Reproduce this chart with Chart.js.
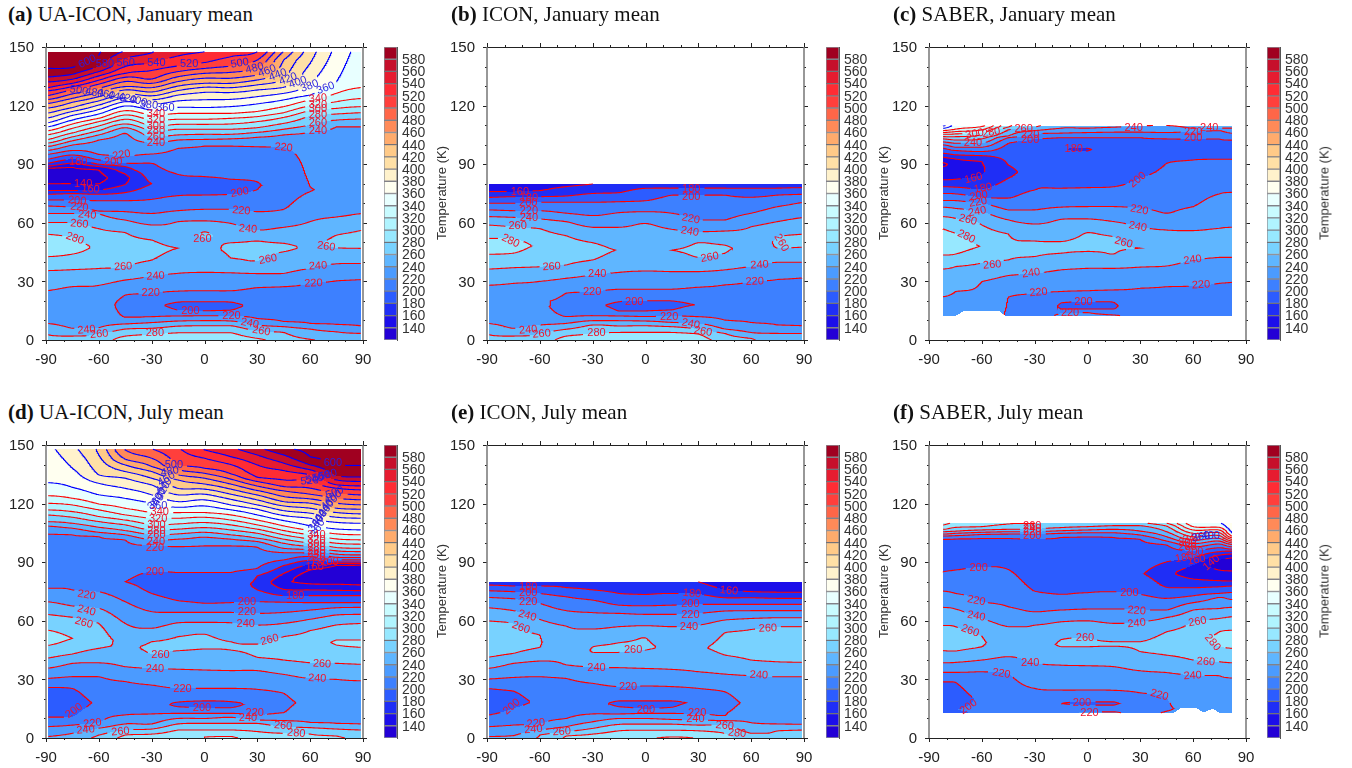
<!DOCTYPE html>
<html><head><meta charset="utf-8"><title>Temperature cross-sections</title>
<style>
html,body{margin:0;padding:0;background:#fff;width:1352px;height:768px;overflow:hidden}
canvas{position:absolute}
.t{position:absolute;font:21px "Liberation Serif",serif;color:#111;white-space:nowrap}
.k{position:absolute;font:13px "Liberation Sans",sans-serif;color:#333;white-space:nowrap;transform:translate(-50%,-50%) rotate(-90deg)}
</style>
<script src="https://cdn.jsdelivr.net/npm/chart.js@4"></script>
</head><body>
<script>
const latColumns=[-90,-75,-60,-45,-30,-15,0,15,30,45,60,75,90];
const saberColumns=[-82,-75,-60,-45,-30,-15,0,15,30,45,60,75,82];
const tickLabelsX=[-90,-60,-30,0,30,60,90];
const tickLabelsY=[0,30,60,90,120,150];
const bandColors=['#2300d6','#1c0eea','#1f2ef6','#2c5cff','#3d80ff','#4b9bff','#5fb6ff','#78d2ff','#97e8ff','#b0f4ff','#c8fbff','#e8ffff','#fffff0','#fff2cc','#ffe0a6','#ffca88','#ffab6c','#ff8a58','#ff6648','#ff3f3c','#ff2c34','#e61c30','#c60f2b','#a00020'];

// Each column: altitude, temperature pairs at that latitude.
const uaIconJan=[
[0,262,3,260,8.5,240,12,235,20,232,25.2,240,35.5,260,42.6,280,48,295,54.2,280,60.2,260,64.8,240,68.6,220,71.7,200,74.6,180,76.5,160,80,140,84,130,88,140,89,160,90.5,180,92.5,200,95,220,97,240,99,260,100.7,280,102.4,300,105,320,107,340,109,360,111,380,113.5,400,116,420,118.6,440,121,460,123,480,125,500,127.5,520,129,540,132,560,134.5,580,139,600,148,625],
[0,262,2,260,6,240,12,228,20,226,27.3,240,36,260,44,280,47,290,52.5,280,60,260,64.8,240,68,220,71.7,200,75,180,76.5,160,80,140,84,132,88.4,140,90.5,160,92.5,180,94.7,200,97,220,99.8,240,102,260,104,280,106,300,108.4,320,110.6,340,112.6,360,115,380,117,400,119,420,121.7,440,123.7,460,126,480,128,500,129.7,520,131.4,540,133.5,560,136,580,139.5,600,148,620],
[0,268,3.4,260,6.3,240,12,228,20,228,28,240,36.6,260,48,276,57,260,64.5,240,66,220,71.3,200,74.6,180,76.8,160,79.9,140,83,135,87,140,88.8,160,90,180,92.2,200,95,220,102.4,240,105,260,107.2,280,109.6,300,111.8,320,113.5,340,115.7,360,118,380,120.3,400,122.4,420,124.6,440,126.6,460,128.9,480,131,500,133,520,135.2,540,137.4,560,140,580,146,600,148,602],
[0,290,2,280,5.6,260,8.2,240,11.6,220,18,214,23,220,30.7,240,37.2,260,46,270,55,260,61.4,240,65.7,220,71.3,200,75.5,180,79.6,160,83,155,85,160,88.8,180,90.5,200,94,220,105.8,240,108.7,260,110.6,280,113,300,115.2,320,117.4,340,119.8,360,122,380,124,400,126,420,128,440,129.7,460,132.3,480,134.5,500,136.5,520,140,540,144.2,560,148,580],
[0,292,3,280,6,260,8.9,240,11.9,220,18,205,23.9,220,32.7,240,40.9,260,46,266,51.2,260,58.9,240,64.8,220,72,200,80,180,90.5,200,95.2,220,101,240,104,260,107.2,280,109.6,300,112.6,320,115.2,340,117.8,360,120.7,380,123,400,125,420,127,440,129.2,460,131.4,480,133.6,500,138,520,141.7,540,147,560,148,562],
[0,295,3.7,280,7.1,260,9.7,240,12.3,220,15.3,200,17.5,195,19.4,200,25,220,34.1,240,47,260,60.6,240,66.2,220,73.9,200,79,190,84.8,200,98.1,220,102.4,240,105,260,107.9,280,110.4,300,113,320,116,340,119.1,360,122.4,380,125.4,400,127.7,420,130,440,132.3,460,134.8,480,137.4,500,140.3,520,145.4,540,148,548],
[0,296,3.7,280,7.3,260,9.9,240,12.4,220,15,200,17.4,195,19.6,200,25.2,220,34.6,240,47,258,52,260,53.5,262,55.4,260,61,240,66.9,220,74.2,200,79,190,83.6,200,99.3,220,102.7,240,105.3,260,107.9,280,110.4,300,113,320,116,340,119,360,123,380,126.8,400,129.4,420,131.4,440,134,460,136.5,480,139,500,142,520,147.6,540,148,541],
[0,292,3.7,280,7.3,260,9.7,240,12.3,220,15.3,200,17.4,195,19.4,200,25.2,220,34.4,240,42,260,46,262,49.8,260,59.7,240,66.9,220,74.6,200,78,190,82.3,200,99.3,220,103,240,105.3,260,107.9,280,110.6,300,113.5,320,116,340,119.5,360,123.2,380,126.7,400,129.2,420,131.4,440,134,460,137,480,140.3,500,145,520,148,528],
[0,285,.8,280,4.7,260,7.7,240,11,220,18,205,26.8,220,34,240,40.4,260,46,264,50.7,260,56.3,240,65.7,220,77,200,79,199,81,200,99,220,103.8,240,106.3,260,108.7,280,111.8,300,114.4,320,117,340,120.9,360,124.6,380,128,400,130.6,420,133.1,440,135.7,460,139.1,480,143.4,500,147.6,520,148,521],
[0,268,3.9,260,6.8,240,9.5,220,18,205,27.3,220,34.1,240,45.2,260,47,264,49.5,260,57.7,240,66.9,220,80,205,98.6,220,105,240,107.9,260,110.9,280,114,300,116.4,320,119.5,340,122.9,360,126.3,380,129.4,400,133.1,420,143.4,440,148,460],
[0,262,.3,260,5.6,240,8.5,220,18,208,29,220,36.6,240,48,258,60.6,240,76,220,77,219,78.5,220,85,222,100,225,106.3,240,110.1,260,114.7,280,117.4,300,119.8,320,122.9,340,125.4,360,130.6,380,141.7,400,148,410],
[0,250,4.2,240,8,220,15,210,20,210,30.3,220,39,240,47.2,260,50,265,53.7,260,63,240,70,222,85,225,100,230,109.2,240,112.6,260,115.7,280,118.6,300,122,320,126.3,340,132.3,360,148,375],
[0,248,3.4,240,7.1,220,15,210,20,210,31,220,39.2,240,46.9,260,50,267,56.3,260,64.8,240,80,228,95,232,109.2,240,113.2,260,116.4,280,119.5,300,123.7,320,129.4,340,135,345,148,352]];
const iconJan=[
[0,262,3,260,8.5,240,12,232,20,230,28,240,36.3,260,43.9,280,48,295,52,280,58.9,260,63.2,240,66.6,220,70,200,73,180,76,160,80,142],
[0,262,2,260,6,240,12,228,20,226,29,240,37,260,44.5,280,48.5,290,52,280,58,260,62.8,240,66.2,220,70,200,73.4,180,76,160,80,147],
[0,268,3.4,260,7.7,240,12,225,20,222,30,240,37.5,260,48,276,57,260,62,240,66.2,220,70.5,200,73.4,180,76.5,160,80,150],
[0,288,2,280,5.5,260,8.5,240,12,220,17,214,24,220,31.6,240,38.4,260,47,270,53.4,260,60.6,240,64.9,220,70.5,200,73.7,180,78.5,160,80,155],
[0,290,3.4,280,7.7,260,9.9,240,12.4,220,18,205,24.7,220,33.3,240,41,260,46,268,49.8,260,57.7,240,63.7,220,70.5,200,75,180,79.9,160,80,160],
[0,296,3.9,280,7.2,260,9.9,240,12.3,220,14.8,200,17.5,195,19.6,200,26,220,34.6,240,46,259,57.7,240,65.2,220,70.8,200,75.4,180,80,170],
[0,298,3.9,280,7.3,260,9.7,240,12,220,14.8,200,18,195,20.1,200,26,220,35.3,240,47,258,59.7,240,65.7,220,71.3,200,77.7,180,80,175],
[0,298,3.9,280,6.8,260,9,240,12.3,220,15.4,200,18,195,20,200,26,220,35,240,46,260,56.7,240,64.9,220,74.2,200,77.7,180,80,175],
[0,288,3.1,280,5.6,260,8.5,240,11.9,220,18,201,27,220,35,240,42.3,260,46,264,49.8,260,55.5,240,61.4,220,74.2,200,77.7,180,80,175],
[0,272,3.4,260,5.6,240,10.2,220,18,208,28.2,220,35.9,240,44.4,260,47,262,48.6,260,55.8,240,61.4,220,74.2,200,77.7,180,80,175],
[0,262,.8,260,3.8,240,8.9,220,20,210,29.9,220,37.6,240,47,255,58,240,64.9,220,73.1,200,77.7,180,80,175],
[0,250,3.4,240,7.7,220,18,210,31,220,39.8,240,47,260,50,262,52.9,260,60.6,240,68.3,220,74.2,200,77.7,180,80,175],
[0,248,3.4,240,7.2,220,18,210,31.9,220,39.8,240,47.5,260,50,265,54.3,260,62.7,240,70.5,220,74.6,200,78,180,80,175]];
const saberJan=[
[12.5,232,22.2,240,36.4,260,43.5,280,48,292,56.9,280,63.2,260,68,240,71.4,220,75,200,78.5,180,82,160,86,145,88.8,140,90,135,90.8,140,93.6,160,95.6,180,98.2,200,99.9,220,101.4,240,103,260,104.1,280,105.3,300,106.2,320,107.2,340,108.4,360,109.8,385],
[12.5,232,24.8,240,37.6,260,44,280,48,288,54.6,280,62.3,260,67.4,240,71.4,220,74.8,200,78.2,180,82.3,160,86,150,88,145,92.7,160,94.8,180,97,200,98.7,220,100.7,240,102.4,260,104.1,280,105.5,300,106.7,320,107.9,340,109.8,350],
[12.5,232,29.9,240,39.3,260,48,279,58.9,260,60.6,258,65.7,240,70,220,73,200,77.2,180,84.5,160,88,158,91.3,160,94.4,180,96.5,200,98.7,220,100.7,240,103,260,105,280,106.2,300,107.6,320,109.3,340,109.8,345],
[12.5,218,21.9,220,33,240,41,260,46,264,54.3,260,61.5,240,66.6,220,72.6,200,82.8,180,86,172,89.6,180,95,185,100.7,200,103.6,220,104.5,240,107.6,260,109,280,109.8,285],
[12.5,214,17,208,23.9,220,34.1,240,42.7,260,47,264,50.7,260,59.4,240,66.6,220,76.8,200,90,190,97,183,102.8,200,105.5,220,107.2,240,109,260,109.8,265],
[12.5,222,13.7,220,15.8,200,17.5,199,19,200,24.8,220,35.9,240,44.4,260,47,263,50.4,260,61.8,240,68,220,77.7,200,85,188,97,181,98.2,181,103.6,200,105.9,220,108.4,240,109.8,245],
[12.5,224,14,220,15.8,200,17.6,197,19.6,200,25.2,220,36.7,240,45.3,260,50,264,55,260,62,240,68.3,220,78,200,85,186,96.8,180,97.5,179,98.2,180,103.6,200,106.2,220,108.4,240,109.8,245],
[12.5,222,12.8,220,15.8,200,17.5,198,19.3,200,25.6,220,36.7,240,44,260,50,262,52.9,260,60.6,240,68.3,220,78.5,200,85,187,100,190,103.6,200,106.4,220,108.9,240,109.8,245],
[12.5,212,26.5,220,37.3,240,47,260,58,240,67.4,220,82.8,200,90,188,103.6,200,106.4,220,109.6,240,109.8,241],
[12.5,212,27.3,220,37.9,240,47,256,56.3,240,64.9,220,90.5,200,98,190,103,200,106.2,220,109.8,240],
[12.5,212,27.7,220,41,240,50,258,56,240,68.3,220,92.2,200,97,195,102.8,200,106.7,220,108.4,240,109.8,245],
[12.5,208,29,220,42.3,240,50,250,57.2,240,74.8,220,92.5,200,97,198,103,200,107.2,220,108.4,240,109.8,245],
[12.5,208,29.5,220,42.3,240,50,252,57.7,240,75.6,220,92.5,200,97,195,102.4,200,105.9,220,108.4,240,109.8,245]];
const uaIconJul=[
[0,242,.7,240,5.8,220,10.6,200,18,190,25.9,200,30.5,220,35.7,240,40.8,260,47.3,280,51,292,55.3,280,63.3,260,69.8,240,76.6,220,90,208,104.5,220,108.6,240,110.8,260,114.2,280,116.8,300,120.2,320,124.1,340,130.8,360,148,375],
[0,250,2.4,240,6.6,220,10.9,200,18,190,25.4,200,31.4,220,38.2,240,43,260,51,280,61.8,260,67.6,240,75.8,220,90,205,104,220,107.4,240,109.9,260,113,280,115.9,300,119.3,320,122.7,340,128.3,360,138.1,380,148,395],
[0,265,1.5,260,5,240,7.8,220,18,203,31.4,220,38.5,240,45.9,260,50,270,58.7,260,66.4,240,74.9,220,78,203,88,205,103.1,220,105.3,240,107.9,260,110.8,280,113.4,300,116.8,320,119.8,340,124.5,360,130.4,380,134.7,400,144.9,420,148,425],
[0,285,1.5,280,4.1,260,7.2,240,11.8,220,18,205,28.9,220,36.5,240,47,258,58.7,240,69.8,220,80,200,85,205,101.4,220,104,240,106.2,260,109.1,280,111.6,300,114.2,320,117.6,340,122.7,360,127.8,380,133,400,136.4,420,139.8,440,142.7,460,147.5,480,148,481],
[0,290,2,280,4.6,260,7.2,240,12.3,220,18,205,27.1,220,35.6,240,43,260,46,263,49.3,260,56.2,240,64.7,220,74,200,80,190,85.2,200,98.5,220,101.4,240,104,260,106.5,280,109.1,300,112.5,320,115.4,340,120.2,360,124.5,380,129.6,400,133,420,136.4,440,139,460,143.2,480,148,500],
[0,296,4.1,280,7.2,260,10,240,12.6,220,16,200,17,197,18.4,200,25.4,220,35.2,240,44.7,260,47,266,51.9,260,59,240,64.3,220,70.3,200,78,185,84.7,200,98,220,101.8,240,104.5,260,106.9,280,109.6,300,112.5,320,115.4,340,118.1,360,121,380,124.5,400,127.8,420,132.1,440,134.7,460,137.3,480,139.8,500,148,518],
[0,300,.7,300,1,290,4.1,280,7.5,260,10,240,12.6,220,15.5,200,17,195,19,200,25.4,220,34.8,240,45.6,260,48,266,53.2,260,59.2,240,64.3,220,69,200,78,182,84.7,200,98.4,220,102.8,240,105.3,260,107.7,280,110.3,300,113,320,115.4,340,118.8,360,121.9,380,124.8,400,127.4,420,130,440,133,460,135.5,480,138.1,500,143.2,520,147.5,540,148,541],
[0,302,.8,300,4.1,280,7.5,260,10.6,240,12.6,220,15.5,200,17,195,18.6,200,25.4,220,34.5,240,45,260,47,262,49.3,260,59,240,64.3,220,69.3,200,77,185,84.7,200,98.4,220,101.8,240,104,260,106.5,280,109.1,300,111.6,320,114.2,340,116.8,360,119.3,380,122.2,400,124.8,420,127.4,440,130,460,132.5,480,135.2,500,140,520,144,540,148,556],
[0,292,3.3,280,7.5,260,9.2,240,11.8,220,18,205,24.9,220,34.5,240,41.3,260,45,264,48.1,260,57.8,240,63.8,220,69.8,200,75.8,180,79,175,83,180,86.9,200,97.7,220,100.6,240,102.3,260,104.8,280,106.9,300,109.1,320,111.6,340,114.2,360,117.1,380,119.3,400,121.9,420,124.4,440,126.7,460,129,480,131.3,500,133.5,520,139.8,540,144.9,560,148,575],
[0,288,2.4,280,5.8,260,8.9,240,13,220,18,215,22.9,220,32.6,240,39.9,260,46,270,51.9,260,58.7,240,64.3,220,69.5,200,72.9,180,76.1,160,80,145,84.3,160,88.3,180,91.2,200,94.9,220,97.1,240,99.7,260,101.8,280,104,300,106.2,320,108.6,340,111.3,360,113.9,380,116.4,400,118.8,420,121,440,123.6,460,126.5,480,128.7,500,132.1,520,136.9,540,140.7,560,144.9,580,148,596],
[0,283,2,280,5.3,260,8,240,18,225,30.5,240,38.5,260,46,275,55,260,60.8,240,65.5,220,69.3,200,72.9,180,75.8,160,78.9,140,82,125,86,140,89,160,90.9,180,92.9,200,94.6,220,96.3,240,98,260,99.7,280,101.8,300,104,320,106.2,340,108.6,360,112.5,380,115.1,400,117.6,420,120.2,440,122.4,460,124.8,480,127.9,500,131.6,520,134.7,540,137.3,560,139.8,580,144,600,148,605],
[0,282,1,280,4.6,260,7.5,240,18,228,30,240,38.2,260,47.6,280,49,282,50.2,280,57.9,260,63,240,66.7,220,69.3,200,72.9,180,75.6,160,78.7,140,82,125,88.3,140,89.3,160,90.1,180,91.2,200,92.5,220,94.1,240,95.8,260,97.5,280,99.7,300,101.9,320,104.5,340,107,360,110.4,380,113,400,115.4,420,117.6,440,120.2,460,122.7,480,125.3,500,127.9,520,129.6,540,132.1,560,134.2,580,139.5,600,148,610],
[0,275,4.1,260,7,240,18,230,29.3,240,37.7,260,46.4,280,48,285,50.2,280,58.7,260,63.3,240,66.9,220,69.3,200,72.9,180,75.4,160,78.3,140,82,125,88.6,140,89.3,160,90.1,180,91.2,200,92.4,220,93.7,240,95.4,260,97.1,280,99.2,300,101.4,320,104,340,106.5,360,109.9,380,112.5,400,114.7,420,117.1,440,119.3,460,121.9,480,124.4,500,127,520,129,540,131.3,560,133.5,580,139.5,600,148,610]];
const iconJul=[
[0,242,.7,240,5.8,220,11.7,200,18,190,25.4,200,30.2,220,35.6,240,41.3,260,48,278,60,260,66.7,240,72,220,75.4,200,78.3,180,80,170],
[0,250,1.2,240,6.6,220,11.7,205,15.2,200,19,193,24,200,31,220,38.2,240,43.3,260,48,270,58.7,260,65.2,240,71.3,220,74.9,200,77.8,180,80,172],
[0,262,1.5,260,4.1,240,7.1,220,18,203,31.4,220,39.4,240,46.4,260,49,261,52.7,260,60.7,240,68.9,220,74,200,77.8,180,80,172],
[0,282,1,280,3.2,260,5.8,240,10,220,18,205,30.5,220,37.4,240,48,250,57.3,240,65.2,220,72.3,200,77,180,80,175],
[0,290,2,280,4.9,260,8.3,240,12.3,220,18,205,28,220,36.2,240,43.7,260,45,261,46.7,260,55.8,240,64.2,220,70.6,200,75.8,180,80,170],
[0,296,3.7,280,7,260,10,240,12.3,220,16,200,17.5,196,19,200,26.3,220,36,240,43.8,260,47,262,48.8,260,57,240,63.8,220,68,200,74,180,80,170],
[0,296,4,280,7.1,260,10,240,12.6,220,15,200,17.5,194,19,200,26.6,220,35.6,240,45,260,47,262,51.3,260,57.5,240,63.3,220,67.7,200,73.5,180,80,172],
[0,305,.5,300,4,280,7.1,260,9.5,240,12.6,220,15.7,200,18,195,19,200,26.3,220,35.1,240,46,258,57,240,63.3,220,68,200,74,180,80,172],
[0,298,3.7,280,6.6,260,9.2,240,12.3,220,18,205,25.4,220,33.9,240,46,258,57.8,240,63.8,220,68.4,200,73.7,180,78,165,80,160],
[0,285,2.4,280,6.6,260,8.9,240,11.4,220,12.9,219,18,212,23.7,220,32.7,240,42.5,260,47,266,53.9,260,60.4,240,65,220,68.4,200,71.8,180,75.8,160,80,150],
[0,272,2.4,260,7.8,240,18,225,31.9,240,39.9,260,48,270,55.6,260,61.2,240,65.2,220,68.4,200,71.8,180,74.9,160,80,145],
[0,265,3.7,260,7.1,240,18,228,31.4,240,39,260,48,275,57,260,61.6,240,65.2,220,68.4,200,71.5,180,74.6,160,80,143],
[0,275,4.1,260,7,240,18,230,31.4,240,38.7,260,48,275,57,260,61.6,240,65.2,220,68.4,200,71.5,180,74.6,160,80,142]];
const saberJul=[
[12.9,195,13.4,200,20,190,28.8,200,33.6,220,38.5,240,44.7,260,50,272,57.6,260,66.9,240,75.2,220,85.1,200,95,190,101.7,200,103.4,220,104.4,240,105.6,260,106.8,280,109,300,109.9,305],
[12.9,195,14.3,200,20,192,28.5,200,33.6,220,38.7,240,44.5,260,50,270,57,260,66,240,74,220,86,200,95,190,101.9,200,103.6,220,104.8,240,105.9,260,107.8,280,109.9,295],
[12.9,205,20,203,33.9,220,39.9,240,46.7,260,49,262,52.2,260,61.2,240,69.8,220,87.7,200,95,190,102.2,200,104.2,220,105.3,240,106.5,260,108.2,280,109.9,290],
[12.9,205,33,220,41.6,240,48,250,57,240,67.2,220,86.3,200,95,190,102.2,200,104.4,220,105.6,240,106.8,260,109.5,280,109.9,281],
[12.9,208,25.4,220,38.5,240,46,252,57.8,240,64.6,220,75.2,200,90,185,101.9,200,104.4,220,105.6,240,107,260,109.9,280],
[12.9,216,17.7,200,24.5,220,37.3,240,46.7,260,48,262,50.4,260,59.5,240,65.5,220,73.5,200,90,185,102.7,200,104.8,220,106.1,240,107.7,260,109.9,275],
[12.9,222,13.4,220,16.8,200,17.7,198,18.5,200,24.5,220,37,240,46.7,260,48,262,51.5,260,60,240,66,220,74.4,200,90,185,103,200,105.1,220,106.5,240,108.2,260,109.9,275],
[12.9,222,13.4,220,16.8,200,17.7,199,18.5,200,24.4,220,36.5,240,47,260,48,262,49.3,260,58.7,240,66,220,74.9,200,90,185,102.7,200,105.1,220,106.8,240,108.7,260,109.9,270],
[12.9,214,18,206,23.1,220,34.4,240,44.2,260,47,262,49.3,260,59.5,240,66,220,73.5,200,80,190,84,182,95,190,101.7,200,103.9,220,105.9,240,108.7,260,109.9,275],
[12.9,222,15,217,20.6,220,33.5,240,42.4,260,48,270,54.4,260,61.7,240,65.5,220,71.5,200,77.1,180,84,165,90.2,180,98.8,200,100.8,220,103,240,105.6,260,108.5,280,109.9,300],
[12.9,228,32.2,240,39.9,260,50,275,59.5,260,65.5,240,69.3,220,72.8,200,76.9,180,81.4,160,85,148,88.5,160,92.3,180,95.9,200,97.9,220,99.6,240,101.3,260,103,280,104.8,300,106.5,320,108.2,340,109.9,352],
[12.9,230,31.9,240,39,260,47,280,50,285,54.4,280,61.2,260,66.3,240,72,220,74,200,77.4,180,80.5,160,86,140,89,130,91.1,140,93.6,160,95.4,180,97.4,200,99.3,220,100.8,240,102.2,260,103.6,280,105.1,300,106.5,320,107.8,340,109.9,358],
[12.9,235,30.8,240,38.5,260,45.9,280,50,292,55.2,280,62.1,260,66.9,240,70.9,220,74.5,200,77.8,180,80.4,160,85.5,140,89,130,92.3,140,94.2,160,95.7,180,96.7,200,97.9,220,99.1,240,100,260,100.8,280,101.7,300,102.5,320,103.4,340,105,360,109.9,380]];

// Contour labels: latitude, altitude, text, angle.
const labelsUaJan=[[-66.6,142.5,600,-25],[-56.6,141.2,580,0],[-44.8,141.7,560,0],[-27.3,141.7,540,0],[-8.7,141.2,520,0],[20,141.7,500,-10],[28.5,139.1,480,-15],[35.5,137.7,460,-20],[41.7,135.7,440,-20],[47.4,133.6,420,-20],[53,131.9,400,-20],[59.7,130,380,-20],[68.7,128.9,360,-20],[-71.3,127.7,500,10],[-62.6,126.6,480,10],[-56,125.8,460,15],[-49.9,124.6,440,15],[-43.9,123.7,420,15],[-37.7,122.4,400,15],[-31.6,120.3,380,5],[-22.2,118.6,360,0],[-27.6,115.5,340,0],[-27.6,112.6,320,0],[-27.6,109.7,300,0],[-27.6,107.2,280,0],[-27.6,104.1,260,0],[-27.6,100.7,240,0],[64.4,123.7,340,-5],[64.4,120.3,320,0],[64.4,118.1,300,0],[64.4,115.2,280,0],[64.4,111.3,260,0],[64.4,107,240,0],[44.9,98.5,220,5],[-47.1,94.7,220,-10],[-71.7,91.3,180,0],[-51.8,91,200,0],[-68.9,79.7,140,0],[-64.7,77.3,160,5],[20,75.6,200,-10],[-72.3,71.3,200,5],[-71.1,67.9,220,5],[-66.6,64,240,5],[-71.1,59.4,260,5],[-73.6,52,280,20],[20.9,66.2,220,5],[24.7,56.8,240,5],[-1.2,51.7,260,0],[-46.2,37.5,260,-3],[36,41.3,260,-10],[69.1,47.8,260,8],[-27.8,32.7,240,-3],[64.4,37.9,240,-3],[-30.5,23.9,220,0],[61.9,29,220,-3],[-8,14.8,200,0],[15.3,12.3,220,0],[25.7,8.5,240,10],[32.3,4.6,260,10],[-67,5.1,240,-5],[-59.8,3,260,-5],[-28.2,3.4,280,0]];
const labelsIconJan=[[-71.3,76,160,0],[-66.2,72.9,180,0],[-66.6,70,200,0],[-66.2,66.2,220,0],[-66.2,62.3,240,0],[-72.6,58.4,260,0],[-76.6,50.7,280,25],[26,77.3,180,0],[26,73.1,200,0],[25.7,62,220,10],[25.1,55.5,240,10],[-53.3,37.5,260,-3],[36.5,42.3,260,-10],[77.1,49.8,260,60],[-27.4,33.6,240,0],[64.8,38.4,240,-3],[-30.3,24.7,220,0],[62,29.9,220,-3],[-6.4,19.3,200,0],[13.4,12,220,0],[25.7,8.2,240,10],[32.7,4.3,260,10],[-66.6,5.1,240,-5],[-59,3.1,260,-5],[-27.8,3.4,280,0]];
const labelsSaberJan=[[-64.1,105.5,300,-10],[-54.7,106.2,280,-10],[-36.3,108.1,260,0],[-32.6,105,220,0],[-32.6,102.4,200,0],[26.2,108.4,240,0],[69.1,108.4,240,0],[60,106.7,220,0],[60,103.3,200,0],[-65,100.7,240,0],[-7.8,97.7,180,0],[-64.7,82.8,160,-15],[-59.4,77.7,180,-10],[-61.8,73.8,200,-10],[-62.2,70.5,220,-10],[-62.6,65.7,240,-10],[-67.9,61.5,260,15],[-68.8,52.9,280,25],[28.5,82,200,-40],[29.4,66.6,220,10],[28.5,58,240,10],[20.5,49.9,260,15],[-54.1,38.4,260,-5],[-32,34.2,240,-8],[59.7,41,240,-8],[-27.8,24.3,220,-5],[64.4,28.2,220,-3],[-2.3,19.3,200,0],[-9.9,13.7,220,0]];
const labelsUaJul=[[-17.4,139.8,500,0],[-19.7,136.4,480,-10],[-21.6,132.6,460,-30],[-23.1,129,440,-45],[-23.5,126.7,420,-60],[-25.8,123.6,400,-60],[-27.6,121,380,-45],[-26.3,118.8,360,0],[-25.4,115.6,340,0],[-26.3,112.2,320,0],[-27.3,109.1,300,0],[-27.3,106,280,0],[-27.3,104,260,0],[-27.6,100.6,240,0],[-28.2,97.1,220,0],[72.9,140.7,600,0],[70.1,134.7,580,-15],[66.3,133.8,560,-15],[62.5,132.6,540,-10],[59.7,131.6,520,-5],[73.8,125.6,500,-20],[72.9,123.3,480,-30],[71,120.5,460,-40],[69.1,117.6,440,-50],[67.2,115.1,420,-50],[65.3,112.5,400,-50],[63.5,109.9,380,-50],[64.4,107.4,360,-60],[63.5,104,340,0],[63.5,101.4,320,0],[63.5,99.4,300,0],[63.5,97.5,280,0],[63.5,95.8,260,0],[63.5,94.1,240,0],[63.5,92.4,220,0],[71,90.3,200,0],[65.3,89.5,180,0],[62.5,87.8,160,0],[-28.2,85.2,200,0],[51.5,72.9,180,0],[24.1,69.8,200,0],[24.1,64.3,220,0],[23.4,58.4,240,0],[-67,73.2,220,10],[-67,65.2,240,15],[-68.5,59,260,15],[37,50.2,260,-15],[-25,42.5,260,0],[66.7,37.9,260,3],[-28.2,35.3,240,0],[64,30.5,240,3],[-12.5,25.1,220,0],[-74.1,14,200,-35],[-1.4,15.2,200,0],[28.5,12.6,220,0],[24.7,10.4,240,0],[44.6,6.3,260,5],[52.1,2.4,280,5],[-63.6,7.5,220,-5],[-67.5,4.1,240,-5],[-47.7,3.2,260,-5]];
const labelsIconJul=[[-66.6,77.5,180,0],[-66.6,74,200,0],[-66.6,69.4,220,0],[-67.1,62.6,240,15],[-70.7,56.5,260,20],[47.4,75.4,160,5],[26.4,74,180,5],[25.5,68.6,200,0],[25.5,63,220,0],[24.7,56.6,240,0],[69.5,56.1,260,-2],[-7,45,260,0],[-27.8,36,240,0],[64.4,32.2,240,3],[-9.9,26.3,220,0],[-76,16,200,-40],[.2,14.6,200,0],[29.3,12.6,220,0],[28.3,9.7,240,0],[45,6.3,260,5],[52,2.4,280,5],[-62.2,7.5,220,-5],[-63.7,4.4,240,-5],[-47.6,3.2,260,-3]];
const labelsSaberJul=[[-31.4,108.7,260,0],[-31.4,107,240,0],[-31.4,105.3,220,0],[-31.4,103.4,200,0],[59.3,102.2,340,-10],[64.4,103,360,-10],[70,103.4,400,0],[56.8,99.6,300,0],[56.8,97.9,280,0],[60.6,95.4,200,0],[54.9,92.3,180,-10],[61.9,91.1,160,-10],[70.4,89.7,140,-40],[-61.8,87.3,200,0],[23.8,74.5,200,0],[-63.2,70.3,220,10],[27.9,65.1,220,5],[-63.2,62.4,240,10],[27.9,58.7,240,-5],[62.5,59.5,260,-10],[-66.6,54.9,260,20],[-1.4,51,260,0],[71,48.9,280,50],[-32.6,38.5,240,0],[67.2,39,260,3],[59.7,31.9,240,-3],[-49,33,220,10],[40.8,22,220,15],[-67.5,16,200,-35],[-3.1,17.7,200,0],[1.1,12.6,220,0]];
// Lower edge of the SABER coverage
const edgeJanLat=[-82,-74.5,-70,-50,-47,82], edgeJanAlt=[12.5,12.5,15,15,12.5,12.5];
const edgeJulLat=[-82,49,53,62,66,71,75,82], edgeJulAlt=[12.9,12.9,15.3,15.3,13,15,12.9,12.9];

const panels=[
 {id:'(a)',title:' UA-ICON, January mean',left:46,bar:384,top:47,cols:uaIconJan,lats:latColumns,ext:[-88.7,88.7,0,147.6],labels:labelsUaJan,tx:8,ty:2},
 {id:'(b)',title:' ICON, January mean',left:487,bar:826,top:47,cols:iconJan,lats:latColumns,ext:[-88.7,88.7,0,80],labels:labelsIconJan,tx:451,ty:2},
 {id:'(c)',title:' SABER, January mean',left:929,bar:1267,top:47,cols:saberJan,lats:saberColumns,ext:[-82,82,12.5,109.8],labels:labelsSaberJan,tx:893,ty:2,eLat:edgeJanLat,eAlt:edgeJanAlt},
 {id:'(d)',title:' UA-ICON, July mean',left:46,bar:384,top:445,cols:uaIconJul,lats:latColumns,ext:[-88.7,88.7,0,147.8],labels:labelsUaJul,tx:8,ty:400},
 {id:'(e)',title:' ICON, July mean',left:487,bar:826,top:445,cols:iconJul,lats:latColumns,ext:[-88.7,88.7,0,80],labels:labelsIconJul,tx:451,ty:400},
 {id:'(f)',title:' SABER, July mean',left:929,bar:1267,top:445,cols:saberJul,lats:saberColumns,ext:[-82,82,12.9,109.9],labels:labelsSaberJul,tx:893,ty:400,eLat:edgeJulLat,eAlt:edgeJulAlt}];

const PW=317,PH=293;
function pieceLinear(xs,ys,x){ if(x<=xs[0])return ys[0]; for(let i=1;i<xs.length;i++) if(x<=xs[i]) return ys[i-1]+(ys[i]-ys[i-1])*(x-xs[i-1])/(xs[i]-xs[i-1]); return ys[ys.length-1];}
function profileAt(p,a){ let n=p.length; if(a<=p[0])return p[1]; for(let i=2;i<n;i+=2) if(a<=p[i]) return p[i-1]+(p[i+1]-p[i-1])*(a-p[i-2])/(p[i]-p[i-2]); return p[n-1];}
function buildField(P){
 const [x0,x1,y0,y1]=P.ext, nx=180, ny=Math.round((y1-y0)/0.25), w=nx+1,h=ny+1;
 const f=new Float32Array(w*h), c=P.cols, L=P.lats, m=L.length;
 const stack=c.map(()=>new Float32Array(h));
 for(let k=0;k<m;k++) for(let j=0;j<h;j++) stack[k][j]=profileAt(c[k],y0+(y1-y0)*j/ny);
 for(let i=0;i<w;i++){ const lat=x0+(x1-x0)*i/nx; let s=0; while(s<m-2&&lat>L[s+1])s++;
  const u=Math.min(1,Math.max(0,(lat-L[s])/(L[s+1]-L[s])));
  const a=stack[Math.max(0,s-1)],b=stack[s],d=stack[s+1],e=stack[Math.min(m-1,s+2)];
  for(let j=0;j<h;j++){ const p0=a[j],p1=b[j],p2=d[j],p3=e[j];
   let v=.5*(2*p1+(p2-p0)*u+(2*p0-5*p1+4*p2-p3)*u*u+(3*p1-p0-3*p2+p3)*u*u*u);
   v=Math.min(Math.max(p0,p1,p2,p3),Math.max(Math.min(p0,p1,p2,p3),v));
   f[i+j*w]=v;}}
 return {f,w,h,nx,ny,x0,x1,y0,y1};
}
function sample(G,lat,alt){ if(lat<G.x0||lat>G.x1||alt<G.y0||alt>G.y1) return NaN;
 const fx=(lat-G.x0)/(G.x1-G.x0)*G.nx, fy=(alt-G.y0)/(G.y1-G.y0)*G.ny; const i=Math.min(G.nx-1,Math.floor(fx)),j=Math.min(G.ny-1,Math.floor(fy)),u=fx-i,v=fy-j,w=G.w,f=G.f;
 return f[i+j*w]*(1-u)*(1-v)+f[i+1+j*w]*u*(1-v)+f[i+(j+1)*w]*(1-u)*v+f[i+1+(j+1)*w]*u*v;}
const SEG={1:[[3,0]],2:[[0,1]],3:[[3,1]],4:[[1,2]],5:[[3,2],[0,1]],6:[[0,2]],7:[[3,2]],8:[[2,3]],9:[[2,0]],10:[[2,1],[0,3]],11:[[2,1]],12:[[1,3]],13:[[1,0]],14:[[0,3]]};
function contourLines(G,level){
 const {f,w,nx,ny,x0,x1,y0,y1}=G, L=level+0.01, pts=new Map(), adj=new Map();
 const dx=(x1-x0)/nx, dy=(y1-y0)/ny;
 function pid(i,j,side){ let id,a,b,x,y;
  if(side===0){id=(i+j*w)*2;a=f[i+j*w];b=f[i+1+j*w];x=x0+(i+(L-a)/(b-a))*dx;y=y0+j*dy;}
  else if(side===2){id=(i+(j+1)*w)*2;a=f[i+(j+1)*w];b=f[i+1+(j+1)*w];x=x0+(i+(L-a)/(b-a))*dx;y=y0+(j+1)*dy;}
  else if(side===3){id=(i+j*w)*2+1;a=f[i+j*w];b=f[i+(j+1)*w];x=x0+i*dx;y=y0+(j+(L-a)/(b-a))*dy;}
  else {id=(i+1+j*w)*2+1;a=f[i+1+j*w];b=f[i+1+(j+1)*w];x=x0+(i+1)*dx;y=y0+(j+(L-a)/(b-a))*dy;}
  if(!pts.has(id))pts.set(id,{x,y}); return id;}
 for(let j=0;j<ny;j++)for(let i=0;i<nx;i++){
  const m=(f[i+j*w]>=L?1:0)|(f[i+1+j*w]>=L?2:0)|(f[i+1+(j+1)*w]>=L?4:0)|(f[i+(j+1)*w]>=L?8:0);
  if(m===0||m===15)continue;
  for(const s of SEG[m]){const a=pid(i,j,s[0]),b=pid(i,j,s[1]);
   if(!adj.has(a))adj.set(a,[]); if(!adj.has(b))adj.set(b,[]); adj.get(a).push(b); adj.get(b).push(a);}}
 const seen=new Set(), out=[];
 const walk=(s)=>{const line=[pts.get(s)];seen.add(s);let cur=s;for(;;){const nx2=(adj.get(cur)||[]).find(q=>!seen.has(q));if(nx2===undefined)break;seen.add(nx2);line.push(pts.get(nx2));cur=nx2;}return line;};
 for(const [id,n] of adj) if(n.length===1&&!seen.has(id)) out.push(walk(id));
 for(const id of adj.keys()) if(!seen.has(id)){const l=walk(id);l.push(l[0]);out.push(l);}
 return out;
}
function splitLine(line,P,level){
 const labs=P.labels.filter(l=>l[2]===level), res=[]; let cur=[];
 for(const p of line){ let hide=false;
  if(P.eLat&&p.y<pieceLinear(P.eLat,P.eAlt,p.x)) hide=true;
  for(const l of labs){ const dx=(p.x-l[0])*1.764, dy=-(p.y-l[1])*1.953, r=-(l[3]||0)*Math.PI/180;
   const a=dx*Math.cos(r)-dy*Math.sin(r), b=dx*Math.sin(r)+dy*Math.cos(r);
   if(Math.abs(a)<12&&Math.abs(b)<6){hide=true;break;}}
  if(hide){ if(cur.length>1)res.push(cur); cur=[]; } else cur.push(p);}
 if(cur.length>1)res.push(cur); return res;
}
const panelPlugin={id:'panelPaint',
 beforeDatasetsDraw(ch){ const P=ch.options.plugins.panelPaint.panel, G=P.grid, xs=ch.scales.x, ys=ch.scales.y, A=ch.chartArea;
  const W=Math.round(A.right-A.left),H=Math.round(A.bottom-A.top); const oc=document.createElement('canvas');oc.width=W;oc.height=H;const oq=oc.getContext('2d');const im=oq.createImageData(W,H);
  const rgb=bandColors.map(c=>[parseInt(c.slice(1,3),16),parseInt(c.slice(3,5),16),parseInt(c.slice(5,7),16)]);
  for(let py=0;py<H;py++){const alt=ys.getValueForPixel(A.top+py+.5);for(let px=0;px<W;px++){const lat=xs.getValueForPixel(A.left+px+.5);
    if(P.eLat&&alt<pieceLinear(P.eLat,P.eAlt,lat))continue; const T=sample(G,lat,alt); if(isNaN(T))continue;
    const c=rgb[Math.max(0,Math.min(23,Math.floor((T-120)/20)))],o=(px+py*W)*4;im.data[o]=c[0];im.data[o+1]=c[1];im.data[o+2]=c[2];im.data[o+3]=255;}}
  oq.putImageData(im,0,0); ch.ctx.drawImage(oc,A.left,A.top);
 },
 afterDatasetsDraw(ch){ const P=ch.options.plugins.panelPaint.panel, c=ch.ctx, xs=ch.scales.x, ys=ch.scales.y;
  c.save(); c.font='11px "Liberation Sans",sans-serif'; c.textAlign='center'; c.textBaseline='middle';
  for(const l of P.labels){ c.save(); c.translate(xs.getPixelForValue(l[0]),ys.getPixelForValue(l[1])); c.rotate((l[3]||0)*Math.PI/180); c.fillStyle=l[2]>=360?'#2a1fe0':'#f0142c'; c.fillText(String(l[2]),0,0); c.restore(); }
  c.restore();
 },
 afterDraw(ch){ const c=ch.ctx,A=ch.chartArea,xs=ch.scales.x,ys=ch.scales.y; c.save();
  c.strokeStyle='#222';c.lineWidth=1;c.beginPath();
  for(let v=-90;v<=90;v+=10){const p=Math.round(xs.getPixelForValue(v))+.5,l=(v%30===0)?4:2;c.moveTo(p,A.bottom);c.lineTo(p,A.bottom+l);c.moveTo(p,A.top);c.lineTo(p,A.top-l);}
  for(let v=0;v<=150;v+=10){const p=Math.round(ys.getPixelForValue(v))+.5,l=(v%30===0)?4:2;c.moveTo(A.left,p);c.lineTo(A.left-l,p);c.moveTo(A.right,p);c.lineTo(A.right+l,p);}
  c.moveTo(A.left,A.top+.5);c.lineTo(A.right,A.top+.5);c.moveTo(A.left,A.bottom+.5);c.lineTo(A.right,A.bottom+.5);c.stroke();
  c.strokeStyle='#777';c.lineWidth=1.5;c.beginPath();c.moveTo(A.left,A.top);c.lineTo(A.left,A.bottom);c.moveTo(A.right,A.top);c.lineTo(A.right,A.bottom);c.stroke();c.restore();}
};
function addCanvas(l,t,w,h){const c=document.createElement('canvas');c.width=w;c.height=h;c.style.left=l+'px';c.style.top=t+'px';c.style.width=w+'px';c.style.height=h+'px';document.body.appendChild(c);return c;}
function noOverflow(s){s.paddingTop=0;s.paddingBottom=0;s.paddingLeft=0;s.paddingRight=0;}
const levels=[];for(let v=140;v<=600;v+=20)levels.push(v);
for(const P of panels){
 P.grid=buildField(P);
 const ds=[];
 for(const lv of levels){ for(const line of contourLines(P.grid,lv)) for(const part of splitLine(line,P,lv))
   ds.push({label:lv+' K',data:part,showLine:true,pointRadius:0,borderWidth:1.1,borderColor:lv>=360?'#0000ff':'#ff0000',tension:0,fill:false}); }
 const cv=addCanvas(P.left-46,P.top-14,PW+46+26,PH+14+30);
 new Chart(cv,{type:'scatter',data:{datasets:ds},plugins:[panelPlugin],options:{animation:false,responsive:false,devicePixelRatio:1,
  layout:{padding:{top:14,right:26,left:0,bottom:2}},
  plugins:{legend:{display:false},tooltip:{enabled:false},panelPaint:{panel:P}},
  scales:{x:{type:'linear',min:-90,max:90,afterBuildTicks:s=>{s.ticks=tickLabelsX.map(v=>({value:v}));},afterFit:s=>{s.height=28;noOverflow(s);},grid:{display:false,drawTicks:false},border:{display:false},ticks:{autoSkip:false,maxRotation:0,padding:11,color:'#222',font:{family:'"Liberation Sans"',size:15},callback:v=>String(v)}},
   y:{type:'linear',min:0,max:150,afterBuildTicks:s=>{s.ticks=tickLabelsY.map(v=>({value:v}));},afterFit:s=>{s.width=46;noOverflow(s);},grid:{display:false,drawTicks:false},border:{display:false},ticks:{autoSkip:false,padding:12,labelOffset:1,color:'#222',font:{family:'"Liberation Sans"',size:15},callback:v=>String(v)}}}}});
 // colour bar
 const bc=addCanvas(P.bar-4,P.top-14,60,PH+28);
 new Chart(bc,{type:'bar',data:{labels:[''],datasets:bandColors.map((col,i)=>({label:(120+i*20)+' K',data:[[120+i*20,140+i*20]],backgroundColor:col,borderColor:'rgba(50,50,60,.55)',borderWidth:1,barPercentage:1,categoryPercentage:1,grouped:false,borderSkipped:false}))},
  options:{animation:false,responsive:false,devicePixelRatio:1,layout:{padding:{top:14,bottom:14,left:4,right:0}},plugins:{legend:{display:false},tooltip:{enabled:false}},
  scales:{x:{display:false},y:{position:'right',min:120,max:600,afterFit:s=>{s.width=43;noOverflow(s);},grid:{display:false,drawTicks:false},border:{display:true,color:'#555'},ticks:{stepSize:20,autoSkip:false,padding:5,labelOffset:1,color:'#333',font:{family:'"Liberation Sans"',size:14},callback:v=>(v===120||v===600)?'':String(v)}}}}});
 const k=document.createElement('div');k.className='k';k.textContent='Temperature (K)';k.style.left=(P.bar+57)+'px';k.style.top=(P.top+146)+'px';document.body.appendChild(k);
 const t=document.createElement('div');t.className='t';t.style.left=P.tx+'px';t.style.top=P.ty+'px';const b=document.createElement('b');b.textContent=P.id;t.appendChild(b);t.appendChild(document.createTextNode(P.title));document.body.appendChild(t);
}
</script></body></html>
